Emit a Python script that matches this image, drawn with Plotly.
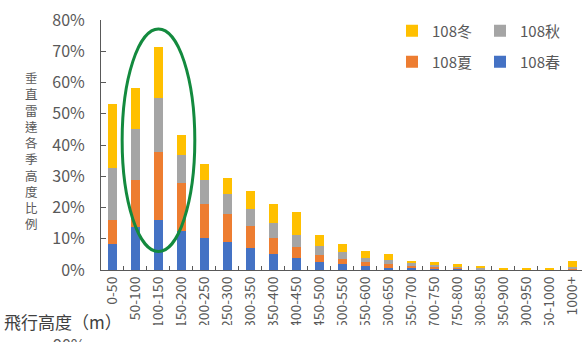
import plotly.graph_objects as go

# Flight altitude bins (m)
altitude_bins = ["0-50", "50-100", "100-150", "150-200", "200-250", "250-300",
                 "300-350", "350-400", "400-450", "450-500", "500-550", "550-600",
                 "600-650", "650-700", "700-750", "750-800", "800-850", "850-900",
                 "900-950", "950-1000", "1000+"]

# Share of vertical-radar detections per season (%)
spring_108 = [8.2, 13.9, 16.0, 12.5, 10.1, 9.1, 6.9, 5.0, 3.9, 2.7, 1.9, 1.4,
              0.8, 0.7, 0.6, 0.6, 0.1, 0.05, 0.02, 0.02, 0.1]
summer_108 = [7.8, 14.9, 21.9, 15.4, 11.0, 8.7, 7.2, 5.3, 3.6, 2.1, 1.5, 1.1,
              1.1, 0.5, 0.5, 0.2, 0.2, 0.1, 0.03, 0.03, 0.5]
autumn_108 = [16.5, 16.2, 17.0, 8.9, 7.8, 6.5, 5.3, 4.8, 3.7, 3.0, 2.3, 1.4,
              1.3, 1.0, 0.6, 0.3, 0.2, 0.15, 0.1, 0.1, 0.3]
winter_108 = [20.6, 13.4, 16.6, 6.3, 5.1, 5.0, 6.0, 6.0, 7.3, 3.4, 2.5, 2.2,
              1.8, 0.8, 1.0, 0.8, 0.8, 0.5, 0.2, 0.2, 2.0]

y_ticks = [0, 10, 20, 30, 40, 50, 60, 70, 80]
y_tick_labels = [f"{v}%" for v in y_ticks]
y_title = "垂直雷達各季高度比例"
x_title = "飛行高度（m）"

FONT = "Noto Sans CJK TC, Noto Sans, sans-serif"
TEXT = "#595959"

W, H = 582, 342
L, R, T, B = 101, 0, 20, 72
pw, ph = W - L - R, H - T - B


def px_x(x):
    return (x - L) / pw


def px_y(y):
    return (H - B - y) / ph


series = [
    ("108春", spring_108, "#4472C4", "legend4"),
    ("108夏", summer_108, "#ED7D31", "legend3"),
    ("108秋", autumn_108, "#A5A5A5", "legend2"),
    ("108冬", winter_108, "#FFC000", "legend"),
]

fig = go.Figure()
for name, vals, color, leg in series:
    fig.add_trace(go.Bar(x=altitude_bins, y=vals, name=name,
                         marker=dict(color=color, line=dict(width=0)),
                         legend=leg, showlegend=True))

legend_style = dict(font=dict(family=FONT, size=15, color=TEXT),
                    bgcolor="rgba(0,0,0,0)", xanchor="left", yanchor="middle",
                    orientation="v", visible=True)

fig.update_layout(
    width=W, height=H,
    margin=dict(l=L, r=R, t=T, b=B, pad=0),
    paper_bgcolor="white", plot_bgcolor="white",
    barmode="stack", bargap=0.6,
    showlegend=True,
    font=dict(family=FONT, color=TEXT),
    legend=dict(x=px_x(392), y=px_y(31), **legend_style),
    legend2=dict(x=px_x(480), y=px_y(31), **legend_style),
    legend3=dict(x=px_x(392), y=px_y(62), **legend_style),
    legend4=dict(x=px_x(480), y=px_y(62), **legend_style),
    xaxis=dict(
        type="category", range=[-0.5, 20.42],
        showline=True, linecolor="#595959", linewidth=1,
        ticks="inside", ticklen=4, tickcolor="#595959", tickson="boundaries",
        tickangle=-90, tickfont=dict(family=FONT, size=14, color=TEXT),
        showgrid=False, zeroline=False,
    ),
    yaxis=dict(
        range=[0, 80], tickmode="array", tickvals=y_ticks, ticktext=y_tick_labels,
        showline=True, linecolor="#595959", linewidth=1,
        ticks="inside", ticklen=5, tickcolor="#595959",
        tickfont=dict(family=FONT, size=16, color=TEXT),
        ticklabelstandoff=12,
        showgrid=False, zeroline=False,
    ),
)

# Highlight around the 50-150 m peak
peak = altitude_bins.index("100-150")
fig.add_shape(type="circle", xref="x", yref="y",
              x0=peak - 1.58, x1=peak + 1.58, y0=5.9, y1=77.1,
              line=dict(color="#138A3E", width=3))

# Bottom strip of the chart frame (long tick labels run past it)
fig.add_shape(type="rect", xref="paper", yref="paper", layer="above",
              x0=px_x(100), x1=1.0, y0=px_y(H + 5), y1=px_y(325),
              fillcolor="white", line=dict(width=0))

# Vertical y-axis title, one character per line
fig.add_annotation(text="<br>".join(y_title), xref="paper", yref="paper",
                   x=px_x(31), y=px_y(150), xanchor="center", yanchor="middle",
                   showarrow=False, font=dict(family=FONT, size=12.5, color=TEXT))

fig.add_annotation(text=x_title, xref="paper", yref="paper",
                   x=px_x(2), y=px_y(321), xanchor="left", yanchor="middle",
                   showarrow=False, font=dict(family=FONT, size=17, color="#404040"))

# Top of the next chart's axis label peeking in
fig.add_annotation(text="90%", xref="paper", yref="paper",
                   x=px_x(88), y=px_y(330), xanchor="right", yanchor="top",
                   showarrow=False, font=dict(family=FONT, size=16, color=TEXT))

fig.write_html("out.html")
